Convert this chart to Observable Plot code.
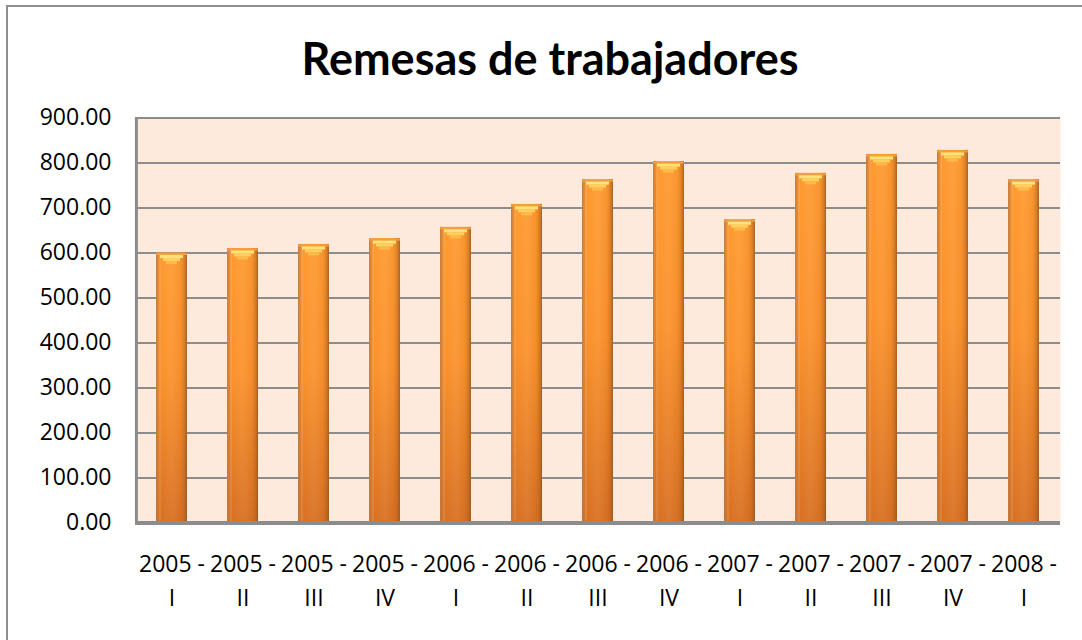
<!DOCTYPE html>
<html>
<head>
<meta charset="utf-8">
<script src="https://cdn.jsdelivr.net/npm/d3@7"></script>
<script src="https://cdn.jsdelivr.net/npm/@observablehq/plot@0.6"></script>
<style>
  html, body { margin: 0; padding: 0; background: #ffffff; }
  #wrap { position: relative; width: 1082px; height: 640px; overflow: hidden; font-family: "Open Sans", sans-serif; }
  #frame { position: absolute; left: 6px; top: 5px; width: 1100px; height: 700px; border: 2px solid #8e8e8e; box-sizing: border-box; }
  #title { position: absolute; left: 0; width: 1100px; top: 32px; text-align: center; font-family: Lato, sans-serif; font-weight: 700; font-size: 45px; line-height: 52px; color: #000; }
  #chart { position: absolute; left: 0; top: 0; }
</style>
</head>
<body>
<div id="wrap">
  <div id="frame"></div>
  <div id="chart"></div>
  <div id="title">Remesas de trabajadores</div>
</div>
<script>
// Data
const periods = ["2005 - I", "2005 - II", "2005 - III", "2005 - IV",
                 "2006 - I", "2006 - II", "2006 - III", "2006 - IV",
                 "2007 - I", "2007 - II", "2007 - III", "2007 - IV",
                 "2008 - I"];
const remesas = [600, 610, 619, 632, 657, 708, 763, 803, 674, 777, 819, 828, 763];
const yTicks = [0, 100, 200, 300, 400, 500, 600, 700, 800, 900];

const data = periods.map((p, i) => ({period: p, value: remesas[i]}));

const chart = Plot.plot({
  width: 1082,
  height: 640,
  marginLeft: 135,
  marginRight: 22,
  marginTop: 117.5,
  marginBottom: 117.5,
  style: {fontFamily: "'Open Sans', sans-serif", fontSize: "23px", color: "#000", background: "transparent", overflow: "visible"},
  x: {domain: periods, paddingInner: 0.56, paddingOuter: 0.28, label: null},
  y: {domain: [0, 900], label: null},
  marks: [
    Plot.frame({fill: "#fdeadc", stroke: null}),
    Plot.ruleY(yTicks.filter(d => d > 0), {stroke: "#8c8c8c", strokeWidth: 2}),
    Plot.axisY({ticks: yTicks, tickFormat: d => d.toFixed(2), tickSize: 0, tickPadding: 24, fontSize: 23, fill: "#000"}),
    Plot.axisX({tickSize: 0, tickPadding: 25, fontSize: 23, fill: "#000", lineHeight: 1.47,
                tickFormat: d => d.replace(" - ", " -\n")}),
    // bar body
    Plot.barY(data, {x: "period", y: "value", fill: "url(#barV)"}),
    Plot.barY(data, {x: "period", y: "value", fill: "url(#barH)"}),
    // top cap highlights
    Plot.tickY(data, {x: "period", y: "value", stroke: "#f0a040", strokeWidth: 2, dy: 1}),
    Plot.tickY(data, {x: "period", y: "value", stroke: "#ffe27a", strokeWidth: 3, dy: 3.5, insetLeft: 4, insetRight: 4}),
    Plot.tickY(data, {x: "period", y: "value", stroke: "#ffd060", strokeWidth: 3, dy: 6.5, insetLeft: 7, insetRight: 7}),
    Plot.tickY(data, {x: "period", y: "value", stroke: "#ffba48", strokeWidth: 3, dy: 9.5, insetLeft: 10, insetRight: 10}),
    Plot.ruleY([0], {stroke: "#8c8c8c", strokeWidth: 4}),
    Plot.ruleX([periods[0]], {stroke: "#8c8c8c", strokeWidth: 3, dx: -35.6, y1: 0, y2: 900})
  ]
});

// gradients
const svg = d3.select(chart);
const defs = svg.insert("defs", ":first-child");
const gv = defs.append("linearGradient").attr("id", "barV").attr("x1", 0).attr("y1", 0).attr("x2", 0).attr("y2", 1);
gv.append("stop").attr("offset", "0").attr("stop-color", "#ff9a30");
gv.append("stop").attr("offset", "0.45").attr("stop-color", "#fb922c");
gv.append("stop").attr("offset", "1").attr("stop-color", "#d87022");
const gh = defs.append("linearGradient").attr("id", "barH").attr("x1", 0).attr("y1", 0).attr("x2", 1).attr("y2", 0);
gh.append("stop").attr("offset", "0").attr("stop-color", "#b87a45").attr("stop-opacity", 0.85);
gh.append("stop").attr("offset", "0.08").attr("stop-color", "#c77a3a").attr("stop-opacity", 0.45);
gh.append("stop").attr("offset", "0.18").attr("stop-color", "#ffffff").attr("stop-opacity", 0.0);
gh.append("stop").attr("offset", "0.5").attr("stop-color", "#ffffff").attr("stop-opacity", 0.06);
gh.append("stop").attr("offset", "0.8").attr("stop-color", "#a65a1c").attr("stop-opacity", 0.08);
gh.append("stop").attr("offset", "0.9").attr("stop-color", "#a65a1c").attr("stop-opacity", 0.35);
gh.append("stop").attr("offset", "1").attr("stop-color", "#8a5020").attr("stop-opacity", 0.75);

document.getElementById("chart").appendChild(chart);
</script>
</body>
</html>
